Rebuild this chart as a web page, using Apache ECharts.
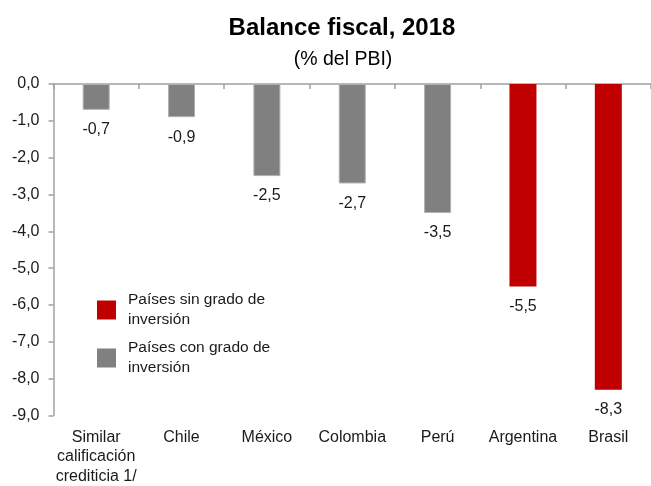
<!DOCTYPE html>
<html>
<head>
<meta charset="utf-8">
<script src="https://cdn.jsdelivr.net/npm/echarts@6/dist/echarts.min.js"></script>
<style>
  html, body { margin: 0; padding: 0; background: #fff; }
  #chart { width: 651px; height: 486px; }
</style>
</head>
<body>
<div id="chart"></div>
<script>
// Fiscal balance 2018, % of GDP
const categories = ['Similar\ncalificación\ncrediticia 1/', 'Chile', 'México', 'Colombia', 'Perú', 'Argentina', 'Brasil'];
const investmentGrade = [-0.7, -0.9, -2.5, -2.7, -3.5, null, null];
const nonInvestmentGrade = [null, null, null, null, null, -5.5, -8.3];
const yTicks = { min: -9, max: 0, interval: 1 };

const FONT = '"Liberation Sans", Arial, sans-serif';
const AXIS_GREY = '#a0a0a0';
const fmt = v => v.toFixed(1).replace('.', ',');

const chart = echarts.init(document.getElementById('chart'), null, { renderer: 'canvas' });

const labelCfg = {
  show: true,
  position: 'bottom',
  distance: 12,
  fontFamily: FONT,
  fontSize: 16,
  color: '#1a1a1a',
  formatter: p => fmt(p.value)
};

chart.setOption({
  animation: false,
  textStyle: { fontFamily: FONT },
  title: [
    {
      text: 'Balance fiscal, 2018',
      left: 337, top: 11, textAlign: 'center',
      textStyle: { fontFamily: FONT, fontSize: 24, fontWeight: 'bold', color: '#000' }
    },
    {
      text: '(% del PBI)',
      left: 338, top: 45, textAlign: 'center',
      textStyle: { fontFamily: FONT, fontSize: 19.5, fontWeight: 'normal', color: '#000' }
    }
  ],
  legend: {
    orient: 'vertical',
    left: 97, top: 290, padding: 0,
    itemWidth: 19, itemHeight: 19, itemGap: 8,
    icon: 'rect',
    itemStyle: { borderWidth: 0 },
    data: ['Países sin grado de inversión', 'Países con grado de inversión'],
    formatter: n => n.replace(' de inversión', ' de\ninversión'),
    textStyle: { fontFamily: FONT, fontSize: 15.5, color: '#1a1a1a', lineHeight: 20, padding: [0, 0, 0, 7] }
  },
  grid: { left: 53.5, right: -3, top: 84, bottom: 69, containLabel: false },
  xAxis: [
    {
      type: 'category', data: categories, position: 'bottom',
      axisLine: { show: false }, axisTick: { show: false },
      axisLabel: { fontFamily: FONT, fontSize: 16, color: '#1a1a1a', margin: 12, lineHeight: 19.5, interval: 0 }
    },
    {
      type: 'category', data: categories, position: 'top',
      axisLine: { show: true, onZero: false, lineStyle: { color: AXIS_GREY, width: 1.5 } },
      axisTick: { show: true, inside: true, length: 5, lineStyle: { color: AXIS_GREY, width: 1.5 } },
      axisLabel: { show: false }
    }
  ],
  yAxis: {
    type: 'value', min: yTicks.min, max: yTicks.max, interval: yTicks.interval,
    axisLine: { show: true, lineStyle: { color: AXIS_GREY, width: 1.5 } },
    axisTick: { show: true, length: 5, lineStyle: { color: AXIS_GREY, width: 1.5 } },
    splitLine: { show: false },
    axisLabel: { fontFamily: FONT, fontSize: 16, color: '#1a1a1a', margin: 14, formatter: fmt }
  },
  series: [
    {
      name: 'Países con grado de inversión', type: 'bar', xAxisIndex: 0,
      data: investmentGrade, barWidth: 27, barGap: '-100%',
      itemStyle: { color: '#808080', borderColor: '#b0b0b0', borderWidth: 1 },
      label: labelCfg
    },
    {
      name: 'Países sin grado de inversión', type: 'bar', xAxisIndex: 0,
      data: nonInvestmentGrade, barWidth: 27, barGap: '-100%',
      itemStyle: { color: '#c00000' },
      label: labelCfg
    }
  ]
});
</script>
</body>
</html>
